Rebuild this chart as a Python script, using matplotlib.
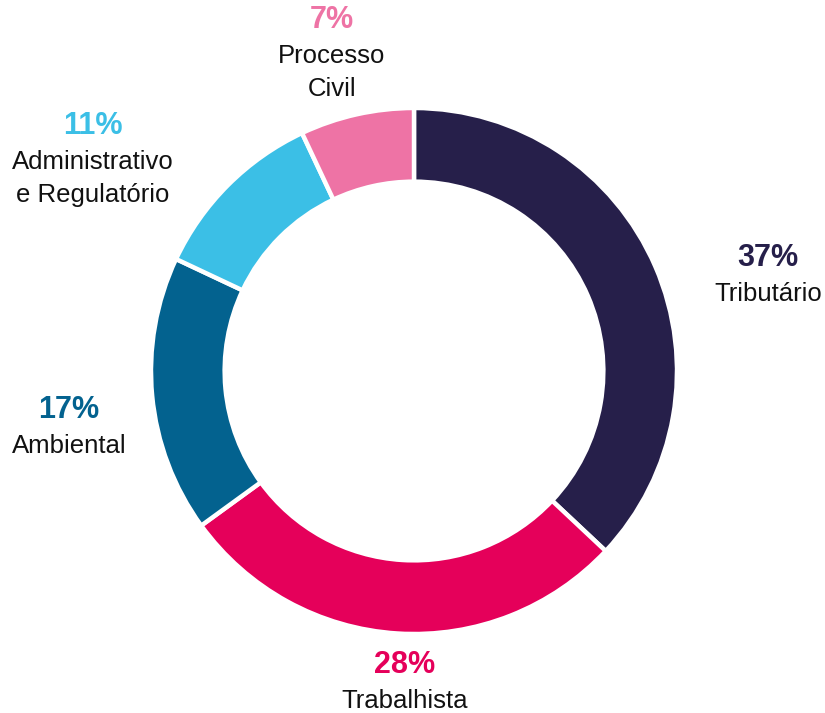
import matplotlib.pyplot as plt

# share of cases by practice area
areas = ['Tributário', 'Trabalhista', 'Ambiental', 'Administrativo\ne Regulatório', 'Processo\nCivil']
shares = [37, 28, 17, 11, 7]
colors = ['#261f4a', '#e5005a', '#03628f', '#3bbfe6', '#ee73a5']

# label anchors (x, y of the percentage line, in figure pixels)
label_pos = [(768, 258), (405, 665), (69, 410), (93, 126), (332, 20)]

W, H = 825, 713
cx, cy, R = 414, 371, 263

fig = plt.figure(figsize=(W / 100, H / 100), dpi=100)
ax = fig.add_axes([0, 0, 1, 1])
ax.pie(shares, colors=colors, startangle=90, counterclock=False,
       radius=1, wedgeprops=dict(width=0.28, edgecolor='white', linewidth=3.2))
ax.set_xlim(-cx / R, (W - cx) / R)
ax.set_ylim((cy - H) / R, cy / R)
ax.set_aspect('equal')
ax.axis('off')

for name, val, col, (px, py) in zip(areas, shares, colors, label_pos):
    x = (px - cx) / R
    y = (cy - py) / R
    ax.text(x, y, f'{val}%', ha='center', va='center', color=col,
            fontsize=22, fontweight='bold', family='Liberation Sans')
    ax.text(x, y - 24 / R, name, ha='center', va='top', color='#111111',
            fontsize=18.5, family='Liberation Sans', linespacing=1.45)

fig.savefig('out.png', dpi=100, facecolor='white')
